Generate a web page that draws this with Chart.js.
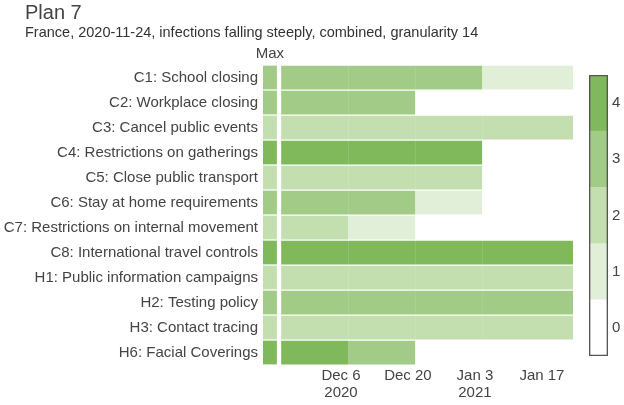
<!DOCTYPE html>
<html>
<head>
<meta charset="utf-8">
<script src="https://cdn.jsdelivr.net/npm/chart.js@4"></script>
<style>
  body { margin: 0; background: #fff; }
  #wrap { position: relative; width: 624px; height: 405px; font-family: Arial, "Liberation Sans", sans-serif; }
  #main { position: absolute; left: 0; top: 0; }
  #bar { position: absolute; left: 578px; top: 0; }
  .title { position: absolute; left: 25px; top: 0; font-size: 20px; line-height: 24px; color: #444; white-space: nowrap; }
  .subtitle { position: absolute; left: 25px; top: 24.5px; font-size: 14.5px; line-height: 15px; color: #333; white-space: nowrap; }
</style>
</head>
<body>
<div id="wrap">
  <canvas id="main" width="624" height="405"></canvas>
  <canvas id="bar" width="46" height="405"></canvas>
  <div class="title">Plan 7</div>
  <div class="subtitle">France, 2020-11-24, infections falling steeply, combined, granularity 14</div>
</div>
<script>
// policy rows
const categories = [
    'C1: School closing',
    'C2: Workplace closing',
    'C3: Cancel public events',
    'C4: Restrictions on gatherings',
    'C5: Close public transport',
    'C6: Stay at home requirements',
    'C7: Restrictions on internal movement',
    'C8: International travel controls',
    'H1: Public information campaigns',
    'H2: Testing policy',
    'H3: Contact tracing',
    'H6: Facial Coverings'
];

// level in the "Max" column
const maxLevels = [3, 3, 2, 4, 2, 3, 2, 4, 2, 3, 2, 4];

// levels per 14-day period (0 = nothing drawn)
const period1 = [3, 3, 2, 4, 2, 3, 2, 4, 2, 3, 2, 4];
const period2 = [3, 3, 2, 4, 2, 3, 1, 4, 2, 3, 2, 3];
const period3 = [3, 0, 2, 4, 2, 1, 0, 4, 2, 3, 2, 0];
const period4 = [1, 0, 2, 0, 0, 0, 0, 4, 2, 3, 2, 0];

// period bounds, in days from 2020-11-24
const periodStart = [-0.5, 13.5, 27.5, 41.5];
const periodEnd = [13.5, 27.5, 41.5, 60.5];
const maxSpan = [-4.3, -1.4];

const tickDays = [12, 26, 40, 54];
const tickLabels = [['Dec 6', '2020'], 'Dec 20', ['Jan 3', '2021'], 'Jan 17'];

const levels = [0, 1, 2, 3, 4];
const levelColors = ['#ffffff', '#e1efd8', '#c3dfb0', '#a1cb86', '#80b95b'];

const font = { family: 'Arial, "Liberation Sans", sans-serif', size: 15, lineHeight: 1.15 };
const textColor = '#444';

const periods = [period1, period2, period3, period4];

const datasets = [{
    data: maxLevels.map(() => maxSpan),
    backgroundColor: maxLevels.map(l => levelColors[l])
}];
periods.forEach((vals, p) => {
    datasets.push({
        data: vals.map(l => l > 0 ? [periodStart[p], periodEnd[p]] : null),
        backgroundColor: vals.map(l => levelColors[l])
    });
});
datasets.forEach(d => {
    d.grouped = false;
    d.barPercentage = 0.95;
    d.categoryPercentage = 1;
    d.borderWidth = 0;
});

new Chart(document.getElementById('main'), {
    type: 'bar',
    data: { labels: categories, datasets: datasets },
    options: {
        indexAxis: 'y',
        responsive: false,
        animation: false,
        layout: { padding: { left: 0, right: 51, top: 39.5, bottom: 0 } },
        plugins: {
            legend: { display: false },
            tooltip: { enabled: false }
        },
        scales: {
            x: {
                type: 'linear',
                min: maxSpan[0],
                max: periodEnd[periodEnd.length - 1],
                grid: { display: false, drawTicks: false },
                border: { display: false },
                afterBuildTicks: s => { s.ticks = tickDays.map(v => ({ value: v })); },
                afterFit: s => { s.height = 40; },
                ticks: {
                    color: textColor,
                    font: font,
                    padding: 2,
                    maxRotation: 0,
                    autoSkip: false,
                    callback: (v) => tickLabels[tickDays.indexOf(v)]
                }
            },
            x2: {
                type: 'linear',
                position: 'top',
                min: maxSpan[0],
                max: periodEnd[periodEnd.length - 1],
                grid: { display: false, drawTicks: false },
                border: { display: false },
                afterBuildTicks: s => { s.ticks = [{ value: (maxSpan[0] + maxSpan[1]) / 2 }]; },
                afterFit: s => { s.height = 25.5; },
                ticks: {
                    color: textColor,
                    font: font,
                    padding: 3,
                    maxRotation: 0,
                    autoSkip: false,
                    callback: () => 'Max'
                }
            },
            y: {
                grid: { display: false, drawTicks: false },
                border: { display: false },
                afterFit: s => { s.width = 263; },
                ticks: { color: textColor, font: font, padding: 5, autoSkip: false }
            }
        }
    }
});

// colour bar: frame first so it is drawn on top
const barSets = [{
    data: [[levels[0] - 0.5, levels[levels.length - 1] + 0.5]],
    backgroundColor: 'rgba(0,0,0,0)',
    borderColor: '#555',
    borderWidth: 1,
    borderSkipped: false,
    grouped: false,
    barPercentage: 1,
    categoryPercentage: 1
}];
levels.forEach(l => barSets.push({
    data: [[l - 0.5, l + 0.5]],
    backgroundColor: levelColors[l],
    borderWidth: 0,
    grouped: false,
    barPercentage: 1,
    categoryPercentage: 1
}));

new Chart(document.getElementById('bar'), {
    type: 'bar',
    data: { labels: [''], datasets: barSets },
    options: {
        responsive: false,
        animation: false,
        layout: { padding: { left: 11, right: 0, top: 75, bottom: 49 } },
        plugins: { legend: { display: false }, tooltip: { enabled: false } },
        scales: {
            x: { display: false },
            y: {
                position: 'right',
                min: -0.5,
                max: 4.5,
                grid: { display: false, drawTicks: false },
                border: { display: false },
                afterBuildTicks: s => { s.ticks = levels.map(v => ({ value: v })); },
                afterFit: s => { s.width = 16; },
                ticks: { color: textColor, font: font, padding: 4 }
            }
        }
    }
});
</script>
</body>
</html>
